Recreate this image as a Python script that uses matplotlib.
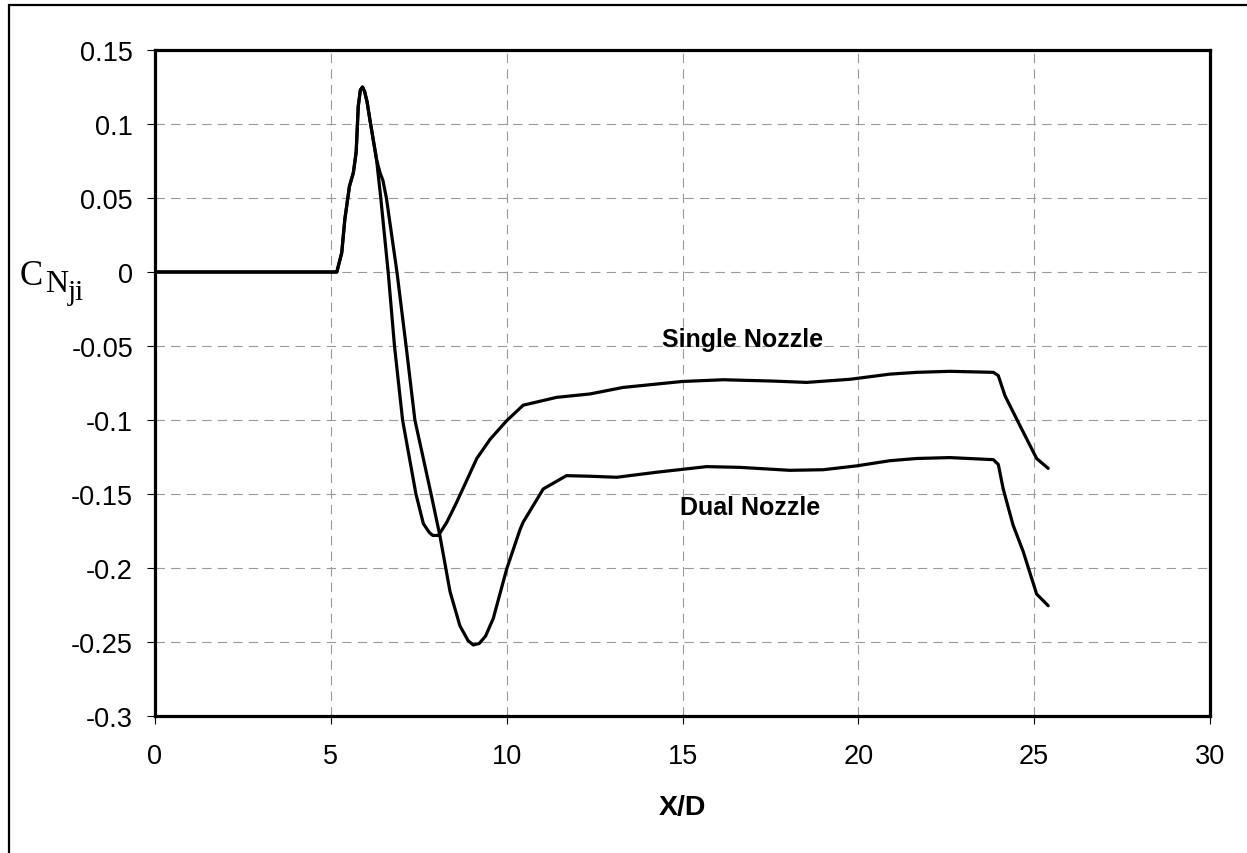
import matplotlib
matplotlib.use("Agg")
import matplotlib.pyplot as plt
from matplotlib.patches import Rectangle
from matplotlib.transforms import IdentityTransform

# ---- data ----
single_x = [0, 5.17, 5.31, 5.40, 5.53, 5.64, 5.72, 5.78, 5.84, 5.90, 5.96, 6.03, 6.11, 6.30,
            6.42, 6.63, 6.81, 7.04, 7.42, 7.63, 7.80, 7.90, 8.06, 8.30, 8.57, 9.15, 9.53,
            10.0, 10.47, 11.42, 12.37, 13.31, 14.98, 16.16, 17.58, 18.53, 19.76,
            20.9, 21.66, 22.6, 23.84, 23.98, 24.17, 24.6, 25.07, 25.4]
single_y = [0, 0, 0.013, 0.036, 0.058, 0.067, 0.081, 0.112, 0.123, 0.125, 0.122, 0.115, 0.103, 0.076,
            0.050, 0.000, -0.050, -0.100, -0.150, -0.170, -0.176, -0.178, -0.178, -0.169, -0.156,
            -0.126, -0.113, -0.1005, -0.090, -0.0847, -0.0824, -0.078, -0.074, -0.0728,
            -0.0737, -0.0746, -0.0725, -0.069, -0.0678, -0.0671, -0.0678, -0.070,
            -0.0836, -0.104, -0.126, -0.1327]

dual_x = [0, 5.17, 5.31, 5.40, 5.53, 5.64, 5.72, 5.78, 5.84, 5.90, 5.96, 6.03, 6.11, 6.30,
          6.40, 6.48, 6.58, 6.88, 7.14, 7.39, 7.63, 7.85, 8.10, 8.39, 8.67, 8.90, 9.05,
          9.22, 9.40, 9.62, 10.0, 10.38, 10.47, 11.04, 11.7, 12.37, 13.13, 14.26, 15.69,
          16.63, 18.05, 19.0, 19.95, 20.9, 21.66, 22.6, 23.84, 23.98, 24.12, 24.4,
          24.69, 25.07, 25.4]
dual_y = [0, 0, 0.013, 0.036, 0.058, 0.067, 0.081, 0.112, 0.123, 0.125, 0.122, 0.115, 0.103, 0.076,
          0.067, 0.062, 0.050, 0.000, -0.050, -0.100, -0.126, -0.150, -0.178, -0.216,
          -0.239, -0.249, -0.252, -0.251, -0.246, -0.234, -0.2007, -0.174, -0.169, -0.1466,
          -0.1376, -0.138, -0.1387, -0.1353, -0.1315, -0.132, -0.134, -0.1336, -0.131, -0.1275,
          -0.126, -0.1254, -0.1268, -0.130, -0.1466, -0.171, -0.189, -0.2176, -0.2255]

x_ticks = [0, 5, 10, 15, 20, 25, 30]
x_ticklabels = ["0", "5", "10", "15", "20", "25", "30"]
y_ticks = [0.15, 0.1, 0.05, 0, -0.05, -0.1, -0.15, -0.2, -0.25, -0.3]
y_ticklabels = ["0.15", "0.1", "0.05", "0", "-0.05", "-0.1", "-0.15", "-0.2", "-0.25", "-0.3"]

series_labels = ["Single Nozzle", "Dual Nozzle"]
label_pos = [(16.72, -0.045), (16.92, -0.1588)]
x_title = "X/D"

# ---- figure ----
W, H = 1247, 854
fig = plt.figure(figsize=(W / 100, H / 100), dpi=100)
fig.patch.set_facecolor("white")
plt.rcParams["font.family"] = ["Liberation Sans", "DejaVu Sans"]

# outer border of the chart area
fig.patches.append(Rectangle((9, -20), W + 40, H - 6 + 20, transform=IdentityTransform(),
                             fill=False, edgecolor="black", linewidth=1.6, figure=fig))

ax = fig.add_axes([155 / W, 1 - 717 / H, (1210 - 155) / W, (717 - 51) / H])
ax.set_xlim(0, 30)
ax.set_ylim(-0.3, 0.15)

ax.plot(single_x, single_y, color="black", lw=2.3, solid_joinstyle="round",
        solid_capstyle="round", zorder=3)
ax.plot(dual_x, dual_y, color="black", lw=2.3, solid_joinstyle="round",
        solid_capstyle="round", zorder=3)

ax.set_xticks(x_ticks)
ax.set_xticklabels(x_ticklabels)
ax.set_yticks(y_ticks)
ax.set_yticklabels(y_ticklabels)
ax.tick_params(axis="both", direction="out", length=5.8, width=0.8, color="black",
               labelsize=19.5)
ax.tick_params(axis="x", pad=14)
ax.tick_params(axis="y", pad=10)

ax.grid(True, color="#9a9a9a", linewidth=0.8, linestyle=(0, (8.5, 5.5)))
ax.set_axisbelow(True)
for s in ax.spines.values():
    s.set_linewidth(2.3)
    s.set_color("black")

for txt, (tx, ty) in zip(series_labels, label_pos):
    ax.text(tx, ty, txt, ha="center", va="center", fontsize=18, fontweight="bold")

# x-axis title
fig.text(682, H - 808, x_title, transform=IdentityTransform(), ha="center", va="center",
         fontsize=20.5, fontweight="bold")

# y-axis label C_N_ji (Times-like, nested subscripts)
serif = ["Liberation Serif", "DejaVu Serif"]
fig.text(20, H - 285, "C", transform=IdentityTransform(), ha="left", va="baseline",
         fontsize=25, family=serif)
fig.text(45, H - 292, "N", transform=IdentityTransform(), ha="left", va="baseline",
         fontsize=23, family=serif)
fig.text(68, H - 300, "ji", transform=IdentityTransform(), ha="left", va="baseline",
         fontsize=21, family=serif)

fig.savefig("out.png", dpi=100, facecolor="white")
